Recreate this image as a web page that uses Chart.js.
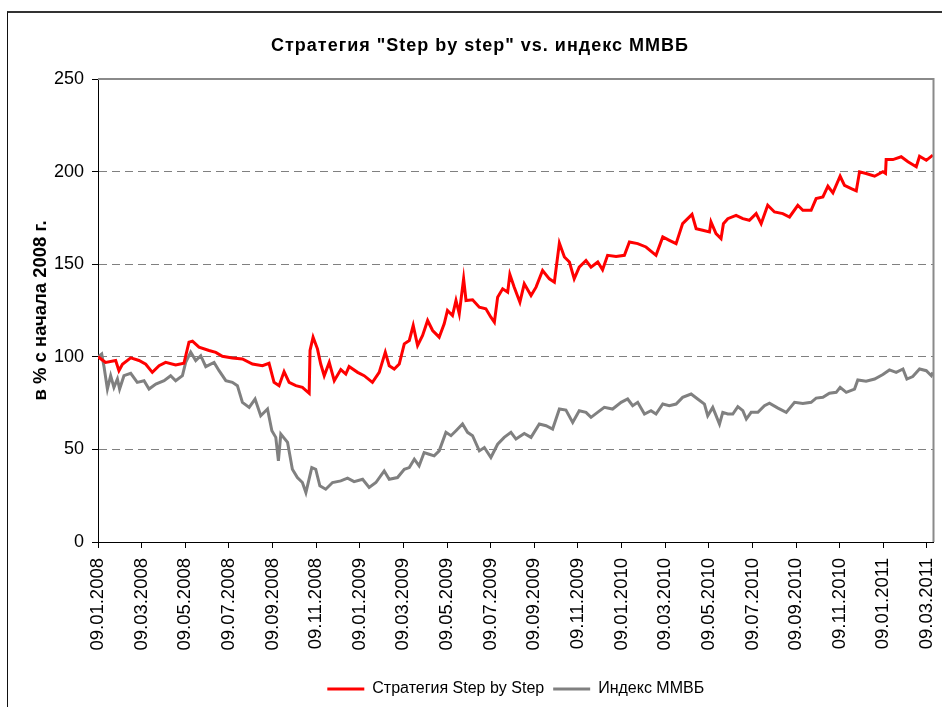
<!DOCTYPE html>
<html><head><meta charset="utf-8">
<script src="https://cdn.jsdelivr.net/npm/chart.js@4"></script>
<style>
html,body{margin:0;padding:0;background:#fff;overflow:hidden;}
#wrap{position:relative;width:942px;height:707px;overflow:hidden;}
#frame{position:absolute;left:7px;top:11px;width:980px;height:740px;border-top:2px solid #333;border-left:1px solid #111;box-sizing:border-box;pointer-events:none;}
#title{position:absolute;left:0;top:35px;width:960px;text-align:center;font:bold 18px "Liberation Sans",Arial,sans-serif;letter-spacing:1px;line-height:20px;color:#000;}
canvas{position:absolute;left:0;top:0;}
</style></head>
<body><div id="wrap"><canvas id="c" width="942" height="707"></canvas><div id="frame"></div><div id="title">Стратегия "Step by step" vs. индекс ММВБ</div></div>
<script>
const dateLabels = ['09.01.2008','09.03.2008','09.05.2008','09.07.2008','09.09.2008','09.11.2008',
  '09.01.2009','09.03.2009','09.05.2009','09.07.2009','09.09.2009','09.11.2009',
  '09.01.2010','09.03.2010','09.05.2010','09.07.2010','09.09.2010','09.11.2010',
  '09.01.2011','09.03.2011'];

// x = months since 09.01.2008
const stratMonths = [0,0.35,0.81,0.96,1.12,1.50,1.88,2.19,2.49,2.80,3.10,3.56,3.94,4.17,4.33,4.63,5.09,5.40,5.70,6.16,6.62,7.08,7.54,7.84,8.07,8.30,8.53,8.76,9.07,9.37,9.68,9.72,9.86,10.06,10.21,10.37,10.60,10.83,11.13,11.36,11.51,11.90,12.20,12.58,12.89,13.17,13.35,13.58,13.81,14.04,14.27,14.45,14.65,14.88,15.11,15.34,15.64,15.87,16.02,16.25,16.41,16.56,16.76,16.87,17.17,17.48,17.78,18.01,18.17,18.32,18.55,18.78,18.88,19.08,19.34,19.54,19.85,20.08,20.38,20.69,20.92,21.15,21.38,21.61,21.83,22.06,22.37,22.60,22.91,23.13,23.36,23.75,24.13,24.36,24.74,25.12,25.58,25.89,26.19,26.50,26.80,27.23,27.42,27.72,28.03,28.10,28.33,28.56,28.67,28.87,29.25,29.56,29.86,30.17,30.40,30.70,31.01,31.39,31.70,32.08,32.31,32.69,32.92,33.23,33.46,33.69,34.02,34.22,34.53,34.76,34.91,35.21,35.60,35.98,36.10,36.13,36.44,36.82,37.13,37.51,37.66,37.97,38.27];
const stratValues = [100,97,98,92.5,96,99.4,98,96,91.6,95.2,97,95.6,96.5,107.9,108.4,105.2,103.4,102.4,100.3,99.4,98.8,96.1,95.2,96.5,86.2,84.4,92,86.2,84.4,83.5,80.3,103.4,110.6,104.3,96.1,89.8,97,87.1,93.1,90.7,94.7,91.6,89.8,86.2,91.6,102.5,95.2,93.4,96.1,107,108.8,116.9,106.1,111.5,119.6,114.2,110.6,117.8,125,122.3,130.4,123.2,142.1,130.4,130.8,126.8,125.9,121.4,118.7,132.2,136.7,134.9,144.5,137.6,129.5,139.4,133.1,137.6,146.6,142.1,140.3,161.4,153.9,151.2,142.1,148.4,152,148.4,151.2,147,154.8,154.2,154.8,162,161.1,159.3,154.8,164.7,162.9,161.1,171.9,176.9,169.2,168.3,167.4,172.8,166.5,163.8,171.9,174.6,176.4,174.6,173.7,177.3,171.9,181.8,178.2,177.3,175.5,181.8,179.1,179.1,185.4,186.3,192.1,188.5,197.5,192.6,190.8,189.6,199.9,199,197.5,199.9,199,206.5,206.5,208,205.3,202.6,208.3,206.1,208.9];

const indexMonths = [0,0.17,0.28,0.43,0.58,0.73,0.89,0.99,1.19,1.50,1.80,2.11,2.34,2.65,3.03,3.33,3.56,3.87,4.02,4.25,4.48,4.71,4.94,5.32,5.55,5.86,6.16,6.39,6.62,6.93,7.20,7.46,7.77,7.97,8.15,8.27,8.38,8.69,8.91,9.14,9.37,9.53,9.80,9.98,10.17,10.44,10.75,11.13,11.44,11.74,12.13,12.43,12.74,13.12,13.35,13.73,14.04,14.27,14.50,14.72,14.95,15.18,15.41,15.64,15.95,16.18,16.41,16.71,16.94,17.17,17.48,17.71,18.01,18.32,18.62,18.93,19.16,19.54,19.85,20.23,20.54,20.84,21.15,21.45,21.76,22.06,22.37,22.60,22.90,23.21,23.59,23.98,24.28,24.51,24.74,25.05,25.35,25.58,25.89,26.19,26.50,26.80,27.19,27.49,27.80,27.95,28.18,28.49,28.64,28.87,29.10,29.33,29.56,29.72,29.94,30.25,30.55,30.78,31.17,31.55,31.93,32.31,32.69,32.92,33.23,33.53,33.84,34.02,34.30,34.68,34.83,35.21,35.60,35.98,36.28,36.59,36.90,37.08,37.35,37.66,37.97,38.20,38.27];
const indexValues = [100,101.5,94.3,82.6,89.8,83.5,88,82.6,89.8,91.1,86.2,87.1,82.6,85.3,87.1,89.8,87.1,89.8,97,102.5,98,100.6,94.7,97,92.5,87.1,86.2,84.4,75.4,72.7,77.2,68.2,71.8,60.1,56.5,43.8,58.3,53.8,39.3,34.8,32.1,26.7,40.2,39.3,30.3,28.5,32.1,33,34.5,32.6,33.9,29.4,32.1,38.4,33.9,34.8,39.3,40.2,44.7,41.1,48.3,47.4,46.5,49.2,59.2,57.4,60.1,63.7,59.2,57.4,49.2,51,45.6,52.8,56.5,59.2,55.6,58.6,56.5,63.7,62.8,61,71.8,71.2,64.6,70.9,70,67.3,70,72.7,71.8,75.4,77.2,73.6,75.4,69.1,70.9,69.1,74.5,73.6,74.5,78.1,79.9,77.2,74.5,68.2,72.7,63.7,70,69.1,69.1,73.1,70.9,66.4,70,70,73.6,75,72.3,70,75.4,74.8,75.4,77.7,78.1,80.3,80.8,83.5,80.8,82.6,87.5,86.8,88,90.4,92.9,91.6,93.4,88,89.3,93.4,92.5,89.8,91.6];

const seriesNames = ['Стратегия Step by Step', 'Индекс ММВБ'];
const axisTitle = 'в % с начала 2008 г.';

const FAMILY = '"Liberation Sans", Arial, sans-serif';
Chart.defaults.font.family = FAMILY;
Chart.defaults.color = '#000';

const toPts = (xs, ys) => xs.map((x, i) => ({x: x, y: ys[i]}));

const framePlugin = {
  id: 'frame',
  afterDraw(chart) {
    const {ctx, chartArea: a} = chart;
    ctx.save();
    ctx.strokeStyle = '#8a8a8a';
    ctx.lineWidth = 2;
    ctx.beginPath();
    ctx.moveTo(a.left, a.top);
    ctx.lineTo(a.right, a.top);
    ctx.lineTo(a.right, a.bottom);
    ctx.stroke();
    ctx.restore();
  }
};

new Chart(document.getElementById('c'), {
  type: 'line',
  data: {
    datasets: [
      {label: seriesNames[0], data: toPts(stratMonths, stratValues), borderColor: '#ff0000', backgroundColor: '#ff0000', borderWidth: 3, pointRadius: 0, tension: 0},
      {label: seriesNames[1], data: toPts(indexMonths, indexValues), borderColor: '#808080', backgroundColor: '#808080', borderWidth: 3, pointRadius: 0, tension: 0}
    ]
  },
  options: {
    responsive: false,
    animation: false,
    devicePixelRatio: 1,
    layout: {padding: {left: 8, right: 8.5, top: 79, bottom: 0}},
    plugins: {
      title: {display: false},
      tooltip: {enabled: false},
      legend: {
        position: 'bottom',
        fullSize: false,
        labels: {
          font: {size: 16, family: FAMILY},
          color: '#000',
          boxWidth: 37,
          boxHeight: 3,
          padding: 9,
          generateLabels: (chart) => Chart.defaults.plugins.legend.labels.generateLabels(chart).map(l => Object.assign(l, {lineWidth: 0, fillStyle: l.strokeStyle}))
        }
      }
    },
    scales: {
      x: {
        type: 'linear', min: 0, max: 38.3,
        ticks: {
          stepSize: 2, includeBounds: false, autoSkip: false, maxRotation: 90, minRotation: 90,
          font: {size: 18.5}, color: '#000', padding: 10,
          callback: (v) => { const i = Math.round(v / 2); return (Math.abs(v - 2 * i) < 1e-6 && dateLabels[i]) ? dateLabels[i] : ''; }
        },
        grid: {drawOnChartArea: false, drawTicks: true, tickLength: 6, tickColor: '#000'},
        border: {color: '#000', width: 1},
        afterFit: (s) => { s.height = 130; s.paddingLeft = 0; s.paddingRight = 0; }
      },
      y: {
        min: 0, max: 250,
        ticks: {stepSize: 50, font: {size: 18}, color: '#000', padding: 8},
        grid: {
          color: (ctx) => (ctx.tick && (ctx.tick.value === 0 || ctx.tick.value === 250)) ? 'rgba(0,0,0,0)' : '#808080',
          lineWidth: 1, tickColor: '#000', tickLength: 6
        },
        border: {color: '#000', width: 1, dash: [8, 5]},
        title: {display: true, text: axisTitle, font: {size: 18.5, weight: 'bold'}, color: '#000', padding: {top: 22, bottom: 0}},
        afterFit: (s) => { s.width = 90; s.paddingTop = 0; s.paddingBottom = 0; }
      }
    }
  },
  plugins: [framePlugin]
});
</script>
</body></html>
